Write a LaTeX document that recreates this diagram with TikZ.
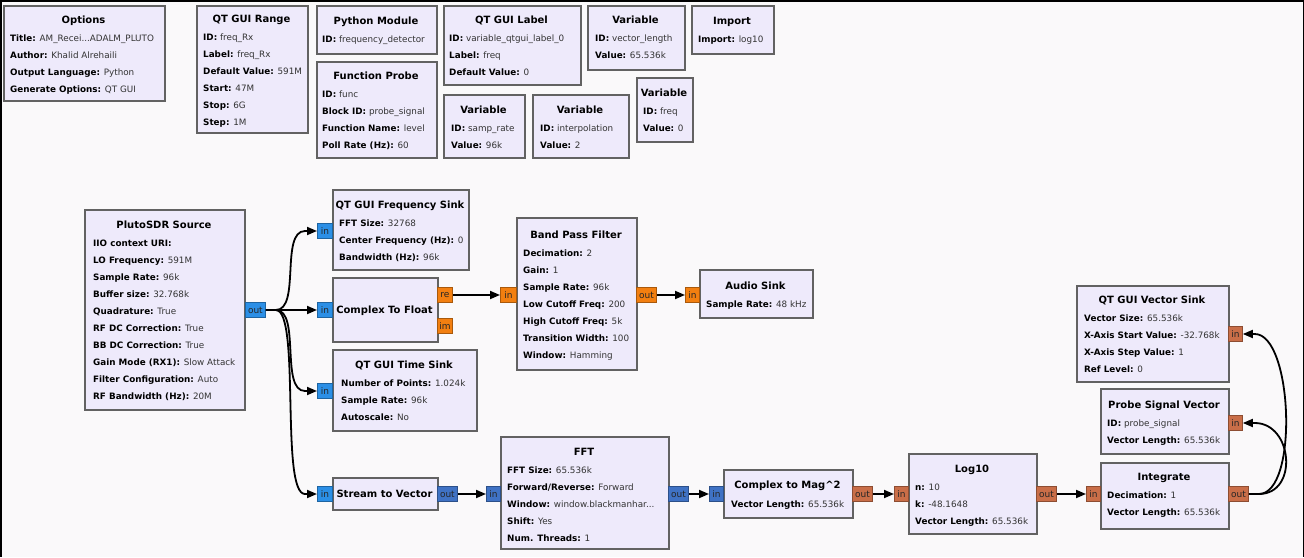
\documentclass[tikz,border=0pt]{standalone}
\usepackage{fontspec}
\setmainfont{DejaVu Sans}
\usetikzlibrary{arrows.meta,calc}

\definecolor{blockfill}{HTML}{EEEAFB}
\definecolor{blockedge}{HTML}{626262}
\definecolor{cplx}{HTML}{2B8FE6}
\definecolor{cplxvec}{HTML}{3F72C4}
\definecolor{flt}{HTML}{F27F10}
\definecolor{fltvec}{HTML}{C96E48}
\definecolor{canvas}{HTML}{FAF9FA}
\definecolor{valtext}{HTML}{333333}

\tikzset{
  x=1pt, y=-1pt,
  blk/.style={draw=blockedge, line width=1.6pt, fill=blockfill, anchor=north west,
              inner sep=0pt, rectangle},
  ttl/.style={font=\bfseries, anchor=base, inner sep=0pt},
  prm/.style={anchor=base west, inner sep=0pt, text=valtext},
  port/.style={draw=#1!70!black, fill=#1, line width=0.8pt, minimum height=15pt,
               inner sep=0pt, anchor=west, text=black!85,
               font=\fontsize{9}{10}\selectfont},
  wire/.style={draw=black, line width=1.8pt, -{Triangle[length=10pt,width=8pt]}},
}

% block frame: name, left, top, width, height
\newcommand\gblk[5]{\node[blk, minimum width=#4pt, minimum height=#5pt] (#1) at (#2,#3) {};}
% block title: name, centre x, baseline y, text
\newcommand\gttl[4]{\node[ttl] (#1) at (#2,#3) {#4};}
% parameter lines: name, left x, first baseline y, list of lines
\newcommand\gprms[4]{\foreach \t [count=\i] in {#4} {\node[prm] (#1-\i) at (#2,#3+17*\i-17) {\t};}}
% port: name, left x, centre y, width, label, colour
\newcommand\gport[6]{\node[port=#6, minimum width=#4pt] (#1) at (#2,#3) {#5};}
\newcommand\kv[2]{\textcolor{black}{\textbf{#1:}} #2}

\begin{document}
\begin{tikzpicture}[font=\fontsize{8.8}{11}\selectfont]
\useasboundingbox[fill=canvas] (0,0) rectangle (1304,557);
\draw[line width=3pt, black] (0,557) -- (0,0) -- (1304,0) -- (1304,557);

% ---------- variables and options ----------
\gblk{opt}{3}{5}{161}{95}
\gttl{opt-t}{83.5}{23}{Options}
\gprms{opt}{10}{41}{{\kv{Title}{AM\_Recei...ADALM\_PLUTO}},{\kv{Author}{Khalid Alrehaili}},{\kv{Output Language}{Python}},{\kv{Generate Options}{QT GUI}}}

\gblk{rng}{196}{5}{111}{127}
\gttl{rng-t}{251.5}{22}{QT GUI Range}
\gprms{rng}{203}{40}{{\kv{ID}{freq\_Rx}},{\kv{Label}{freq\_Rx}},{\kv{Default Value}{591M}},{\kv{Start}{47M}},{\kv{Stop}{6G}},{\kv{Step}{1M}}}

\gblk{pym}{316}{5}{120}{48}
\gttl{pym-t}{376}{24}{Python Module}
\gprms{pym}{322}{42}{{\kv{ID}{frequency\_detector}}}

\gblk{fpr}{316}{61}{120}{96}
\gttl{fpr-t}{376}{79}{Function Probe}
\gprms{fpr}{322}{97}{{\kv{ID}{func}},{\kv{Block ID}{probe\_signal}},{\kv{Function Name}{level}},{\kv{Poll Rate (Hz)}{60}}}

\gblk{qlb}{443}{5}{137}{79}
\gttl{qlb-t}{511.5}{23}{QT GUI Label}
\gprms{qlb}{449}{41}{{\kv{ID}{variable\_qtgui\_label\_0}},{\kv{Label}{freq}},{\kv{Default Value}{0}}}

\gblk{vvl}{587}{5}{97}{64}
\gttl{vvl-t}{635.5}{23}{Variable}
\gprms{vvl}{595}{41}{{\kv{ID}{vector\_length}},{\kv{Value}{65.536k}}}

\gblk{imp}{691}{5}{82}{48}
\gttl{imp-t}{732}{24}{Import}
\gprms{imp}{698}{42}{{\kv{Import}{log10}}}

\gblk{vsr}{443}{94}{81}{63}
\gttl{vsr-t}{483.5}{113}{Variable}
\gprms{vsr}{451}{131}{{\kv{ID}{samp\_rate}},{\kv{Value}{96k}}}

\gblk{vin}{532}{94}{96}{63}
\gttl{vin-t}{580}{113}{Variable}
\gprms{vin}{540}{131}{{\kv{ID}{interpolation}},{\kv{Value}{2}}}

\gblk{vfq}{636}{77}{56}{64}
\gttl{vfq-t}{664}{96}{Variable}
\gprms{vfq}{643}{114}{{\kv{ID}{freq}},{\kv{Value}{0}}}

% ---------- signal blocks ----------
\gblk{plu}{84}{209}{160}{200}
\gttl{plu-t}{164}{228}{PlutoSDR Source}
\gprms{plu}{93}{246}{{\textbf{\textcolor{black}{IIO context URI:}}},{\kv{LO Frequency}{591M}},{\kv{Sample Rate}{96k}},{\kv{Buffer size}{32.768k}},{\kv{Quadrature}{True}},{\kv{RF DC Correction}{True}},{\kv{BB DC Correction}{True}},{\kv{Gain Mode (RX1)}{Slow Attack}},{\kv{Filter Configuration}{Auto}},{\kv{RF Bandwidth (Hz)}{20M}}}

\gblk{fsk}{332}{189}{136}{80}
\gttl{fsk-t}{400}{208}{QT GUI Frequency Sink}
\gprms{fsk}{339}{226}{{\kv{FFT Size}{32768}},{\kv{Center Frequency (Hz)}{0}},{\kv{Bandwidth (Hz)}{96k}}}

\gblk{c2f}{332}{277}{105}{64}
\gttl{c2f-t}{384.5}{313}{Complex To Float}

\gblk{tsk}{332}{349}{144}{81}
\gttl{tsk-t}{404}{368}{QT GUI Time Sink}
\gprms{tsk}{341}{386}{{\kv{Number of Points}{1.024k}},{\kv{Sample Rate}{96k}},{\kv{Autoscale}{No}}}

\gblk{bpf}{516}{217}{120}{152}
\gttl{bpf-t}{576}{238}{Band Pass Filter}
\gprms{bpf}{523}{256}{{\kv{Decimation}{2}},{\kv{Gain}{1}},{\kv{Sample Rate}{96k}},{\kv{Low Cutoff Freq}{200}},{\kv{High Cutoff Freq}{5k}},{\kv{Transition Width}{100}},{\kv{Window}{Hamming}}}

\gblk{aud}{699}{269}{113}{48}
\gttl{aud-t}{755.5}{289}{Audio Sink}
\gprms{aud}{706}{307}{{\kv{Sample Rate}{48 kHz}}}

\gblk{s2v}{332}{477}{105}{32}
\gttl{s2v-t}{384.5}{497}{Stream to Vector}

\gblk{fft}{500}{436}{168}{112}
\gttl{fft-t}{584}{455}{FFT}
\gprms{fft}{507}{473}{{\kv{FFT Size}{65.536k}},{\kv{Forward/Reverse}{Forward}},{\kv{Window}{window.blackmanhar...}},{\kv{Shift}{Yes}},{\kv{Num. Threads}{1}}}

\gblk{mag}{723}{469}{129}{48}
\gttl{mag-t}{787.5}{488}{Complex to Mag\textasciicircum 2}
\gprms{mag}{731}{507}{{\kv{Vector Length}{65.536k}}}

\gblk{lg}{908}{453}{128}{80}
\gttl{lg-t}{972}{472}{Log10}
\gprms{lg}{915}{490}{{\kv{n}{10}},{\kv{k}{-48.1648}},{\kv{Vector Length}{65.536k}}}

\gblk{itg}{1100}{462}{128}{66}
\gttl{itg-t}{1164}{480}{Integrate}
\gprms{itg}{1107}{498}{{\kv{Decimation}{1}},{\kv{Vector Length}{65.536k}}}

\gblk{psv}{1100}{388}{128}{65}
\gttl{psv-t}{1164}{408}{Probe Signal Vector}
\gprms{psv}{1107}{426}{{\kv{ID}{probe\_signal}},{\kv{Vector Length}{65.536k}}}

\gblk{vsk}{1076}{285}{152}{96}
\gttl{vsk-t}{1152}{303}{QT GUI Vector Sink}
\gprms{vsk}{1084}{321}{{\kv{Vector Size}{65.536k}},{\kv{X-Axis Start Value}{-32.768k}},{\kv{X-Axis Step Value}{1}},{\kv{Ref Level}{0}}}

% ---------- ports ----------
\gport{plu-out}{245}{310}{20}{out}{cplx}
\gport{fsk-in}{317}{231}{15}{in}{cplx}
\gport{c2f-in}{317}{310}{15}{in}{cplx}
\gport{c2f-re}{437}{295}{15}{re}{flt}
\gport{c2f-im}{437}{326}{15}{im}{flt}
\gport{tsk-in}{317}{391}{15}{in}{cplx}
\gport{s2v-in}{317}{494}{15}{in}{cplx}
\gport{s2v-out}{437}{494}{20}{out}{cplxvec}
\gport{bpf-in}{500}{295}{16}{in}{flt}
\gport{bpf-out}{636}{295}{20}{out}{flt}
\gport{aud-in}{685}{295}{14}{in}{flt}
\gport{fft-in}{486}{494}{14}{in}{cplxvec}
\gport{fft-out}{668}{494}{20}{out}{cplxvec}
\gport{mag-in}{709}{494}{14}{in}{cplxvec}
\gport{mag-out}{852}{494}{20}{out}{fltvec}
\gport{lg-in}{894}{494}{14}{in}{fltvec}
\gport{lg-out}{1036}{494}{20}{out}{fltvec}
\gport{itg-in}{1086}{494}{14}{in}{fltvec}
\gport{itg-out}{1228}{494}{20}{out}{fltvec}
\gport{psv-in}{1228}{423}{14}{in}{fltvec}
\gport{vsk-in}{1228}{334}{14}{in}{fltvec}

% ---------- connections ----------
\foreach \dst in {fsk-in,c2f-in,tsk-in,s2v-in}
  \draw[wire] (plu-out.east) -- ++(10,0)
    .. controls +(25,0) and +(-25,0) .. ($(\dst.west)+(-12,0)$) -- (\dst.west);
\draw[wire] (c2f-re.east) -- (bpf-in.west);
\draw[wire] (bpf-out.east) -- (aud-in.west);
\draw[wire] (s2v-out.east) -- (fft-in.west);
\draw[wire] (fft-out.east) -- (mag-in.west);
\draw[wire] (mag-out.east) -- (lg-in.west);
\draw[wire] (lg-out.east) -- (itg-in.west);
\foreach \dst in {vsk-in,psv-in}
  \draw[wire] (itg-out.east) -- ++(10,0)
    .. controls +(40,0) and +(38,0) .. ($(\dst.east)+(12,0)$) -- (\dst.east);
\end{tikzpicture}
\end{document}
